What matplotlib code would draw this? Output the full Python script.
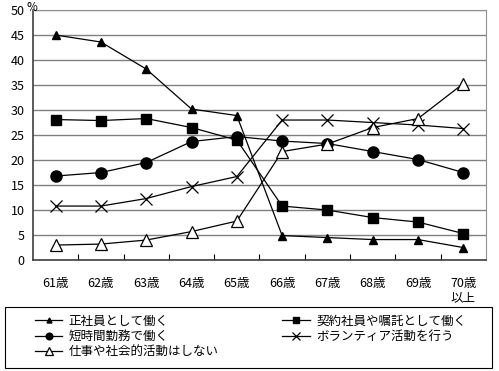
import matplotlib.pyplot as plt
import numpy as np
from matplotlib.patches import Rectangle

plt.rcParams['font.family'] = ['Noto Sans CJK JP', 'DejaVu Sans']

categories = ['61歳', '62歳', '63歳', '64歳', '65歳', '66歳', '67歳', '68歳', '69歳', '70歳\n以上']

seishain = [45.0, 43.6, 38.2, 30.2, 28.9, 4.9, 4.5, 4.1, 4.1, 2.5]
keiyaku = [28.1, 27.9, 28.3, 26.5, 24.0, 10.8, 10.0, 8.5, 7.6, 5.3]
tanjikan = [16.8, 17.5, 19.5, 23.7, 24.7, 23.8, 23.3, 21.7, 20.1, 17.5]
volunteer = [10.8, 10.8, 12.3, 14.7, 16.7, 28.0, 28.0, 27.5, 27.0, 26.3]
shinai = [3.0, 3.2, 4.0, 5.7, 7.8, 21.7, 23.2, 26.5, 28.3, 35.3]

labels = ['正社員として働く', '契約社員や嘱託として働く', '短時間勤務で働く',
          'ボランティア活動を行う', '仕事や社会的活動はしない']

fig = plt.figure(figsize=(4.99, 3.71), dpi=100)
ax = fig.add_axes([0.066, 0.299, 0.908, 0.674])

x = np.arange(len(categories))
lw = 0.9
l1, = ax.plot(x, seishain, color='black', lw=lw, marker='^', ms=6)
l2, = ax.plot(x, keiyaku, color='black', lw=lw, marker='s', ms=7.5)
l3, = ax.plot(x, tanjikan, color='black', lw=lw, marker='o', ms=8)
l4, = ax.plot(x, volunteer, color='black', lw=lw, marker='x', ms=9, mew=0.9)
l5, = ax.plot(x, shinai, color='black', lw=lw, marker='^', ms=8.5,
              mfc='white', mew=0.9)

ax.set_xlim(-0.5, len(categories) - 0.5)
ax.set_ylim(0, 50)
ax.set_yticks(range(0, 51, 5))
ax.yaxis.grid(True, color='#808080', lw=1)
ax.set_axisbelow(True)
ax.tick_params(axis='y', length=0, labelsize=9, pad=6)

ax.set_xticks(x)
ax.set_xticklabels(categories, fontsize=9, linespacing=1.1)
ax.tick_params(axis='x', length=0, pad=12)
ax.set_xticks(np.arange(0.5, len(categories) - 1, 1), minor=True)
ax.tick_params(axis='x', which='minor', direction='in', length=4, width=0.8)

for s in ['top', 'right']:
    ax.spines[s].set_color('#909090')
for s in ['left', 'bottom']:
    ax.spines[s].set_color('#404040')
    ax.spines[s].set_linewidth(1.2)

fig.text(32 / 499, 1 - 1 / 371, '%', fontsize=8.5, ha='center', va='top')

# legend frame
fig.patches.append(Rectangle((5 / 499, 3 / 371), 487 / 499, 61 / 371,
                             transform=fig.transFigure, fill=False,
                             edgecolor='black', lw=0.8))

leg = fig.legend([l1, l3, l5, l2, l4],
                 [labels[0], labels[2], labels[4], labels[1], labels[3]],
                 ncol=2, loc='upper left', bbox_to_anchor=(26 / 499, 1 - 306 / 371),
                 fontsize=9, frameon=False, handlelength=2.2, handletextpad=0.5,
                 columnspacing=5.1, labelspacing=0.2, borderpad=0.2,
                 markerscale=0.6)

fig.savefig('out.png', dpi=100)
